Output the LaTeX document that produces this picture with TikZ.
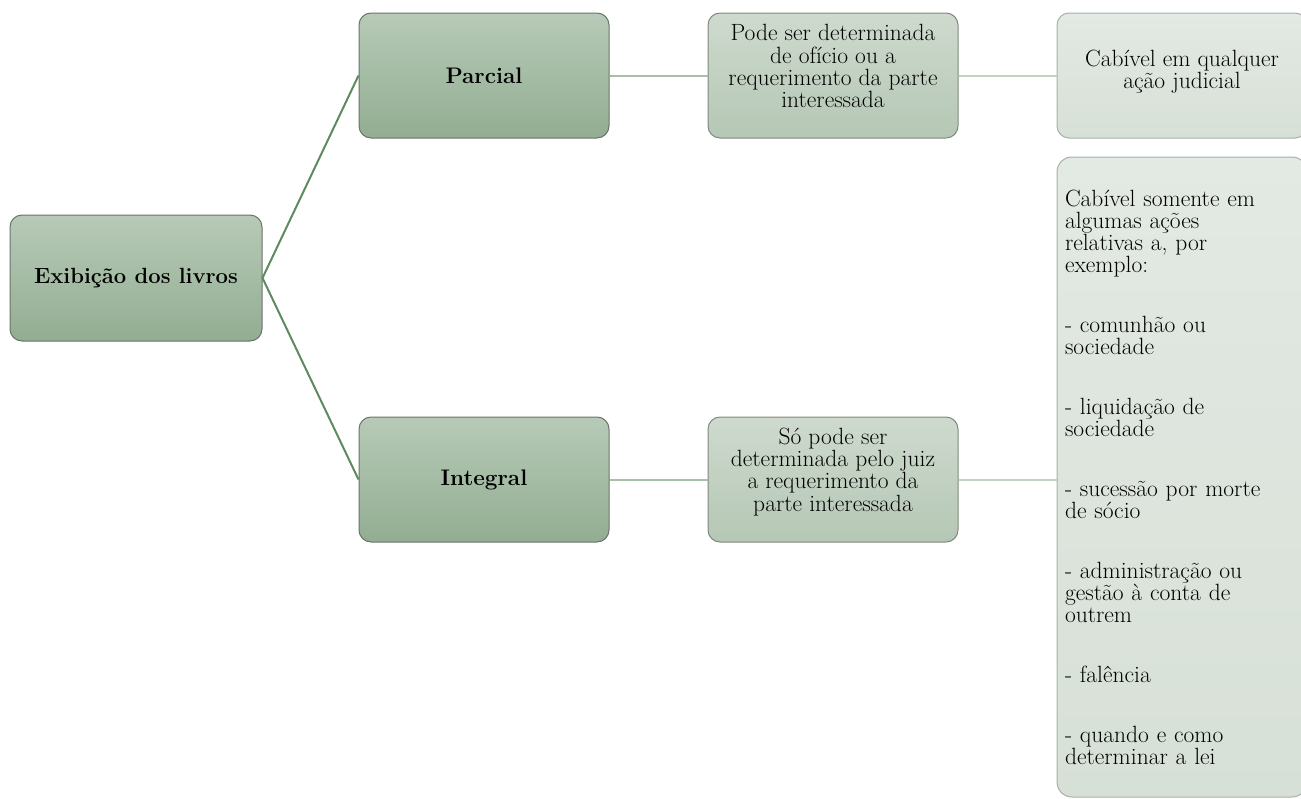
\documentclass[tikz,border=0pt]{standalone}
\usepackage{fontspec}
\definecolor{rootTop}{HTML}{B7CAB7}
\definecolor{rootBot}{HTML}{92AD92}
\definecolor{midTop}{HTML}{CEDACE}
\definecolor{midBot}{HTML}{B5C7B5}
\definecolor{leafTop}{HTML}{E3E9E3}
\definecolor{leafBot}{HTML}{D7E0D7}
\definecolor{edgeA}{HTML}{5E8A5F}
\definecolor{edgeB}{HTML}{A7BEA8}
\definecolor{edgeC}{HTML}{C4D0C4}
\definecolor{borderA}{HTML}{6A746A}
\definecolor{borderB}{HTML}{7F897F}
\definecolor{borderC}{HTML}{A8B0A8}
\begin{document}
\begin{tikzpicture}[x=1pt,y=-1pt,
  base/.style={rounded corners=12pt, line width=1pt, inner sep=0pt, align=center},
  lvlzero/.style={base, draw=borderA, top color=rootTop, bottom color=rootBot,
    minimum width=252pt, minimum height=126pt, font=\fontsize{22}{24}\selectfont\bfseries},
  lvlone/.style={base, draw=borderA, top color=rootTop, bottom color=rootBot,
    minimum width=250pt, minimum height=125pt, font=\fontsize{22.5}{24}\selectfont\bfseries},
  lvltwo/.style={base, draw=borderB, top color=midTop, bottom color=midBot,
    minimum width=250pt, minimum height=125pt, font=\fontsize{23.5}{22.3}\selectfont},
  lvlthree/.style={base, draw=borderC, top color=leafTop, bottom color=leafBot,
    minimum width=250pt, minimum height=125pt, font=\fontsize{23.5}{22}\selectfont},
  edgea/.style={draw=edgeA, line width=2pt},
  edgeb/.style={draw=edgeB, line width=2pt},
  edgec/.style={draw=edgeC, line width=2pt}
]
\useasboundingbox (0,0) rectangle (1301,798);
\begin{scope}
\clip (0,0) rectangle (1301,798);
\node[lvlzero] (root) at (136,278) {Exibição dos livros};
\node[lvlone] (parc) at (484,75.5) {Parcial};
\node[lvlone] (integ) at (484,479.5) {Integral};
\node[lvltwo, text depth=19pt] (pode) at (833,75.5) {Pode ser determinada\\de ofício ou a\\requerimento da parte\\interessada};
\node[lvltwo, text depth=20pt] (so) at (833,479.5) {Só pode ser\\determinada pelo juiz\\a requerimento da\\parte interessada};
\node[lvlthree, text depth=12pt] (qual) at (1182,75.5) {Cabível em qualquer\\ação judicial};
\node[lvlthree, rounded corners=15pt, minimum height=640pt, text width=234pt, inner xsep=8pt, align=left] (some) at (1182,477)
  {Cabível somente em\\algumas ações\\relativas a, por\\exemplo:\\[38pt]
   - comunhão ou\\sociedade\\[38pt]
   - liquidação de\\sociedade\\[38pt]
   - sucessão por morte\\de sócio\\[38pt]
   - administração ou\\gestão à conta de\\outrem\\[38pt]
   - falência\\[38pt]
   - quando e como\\determinar a lei};
\draw[edgea] (root.east) -- (parc.west);
\draw[edgea] (root.east) -- (integ.west);
\draw[edgeb] (parc.east) -- (pode.west);
\draw[edgeb] (integ.east) -- (so.west);
\draw[edgec] (pode.east) -- (qual.west);
\draw[edgec] (so.east) -- (so.east -| some.west);
\end{scope}
\end{tikzpicture}
\end{document}
